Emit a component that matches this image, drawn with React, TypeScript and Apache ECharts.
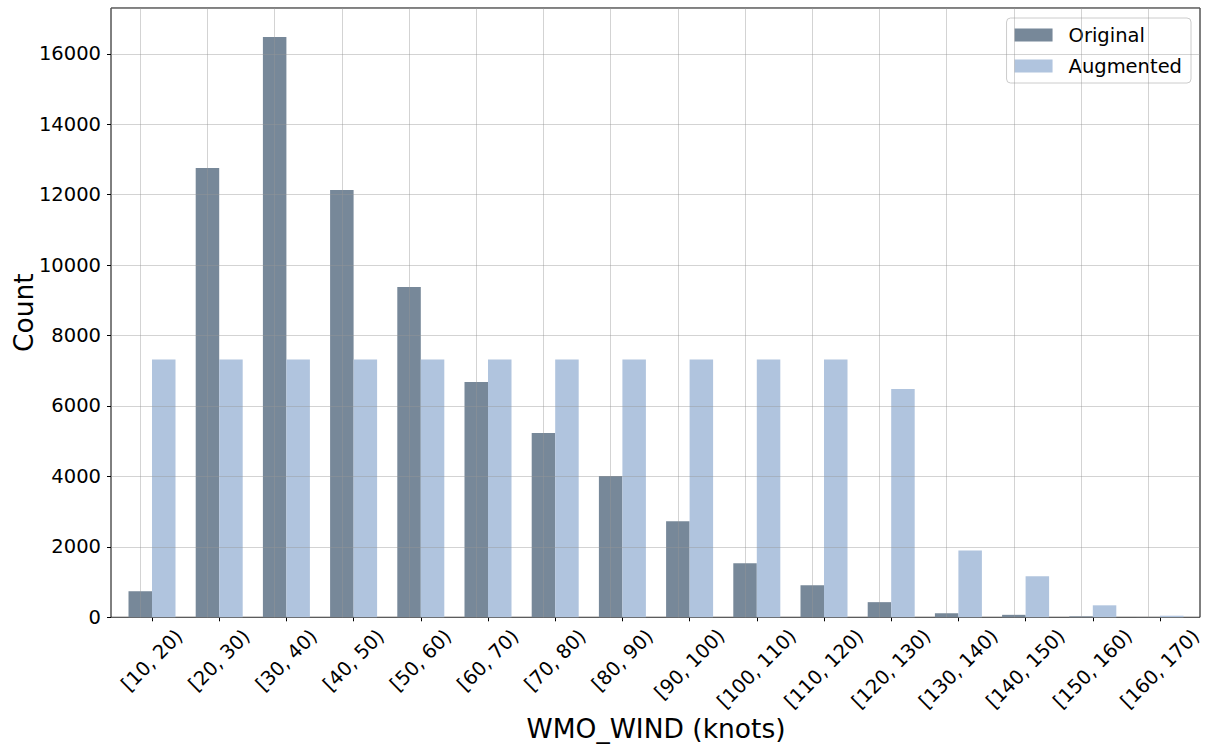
import React, { useEffect, useRef } from "react";
import * as echarts from "echarts";

const categories = [
  "[10, 20)", "[20, 30)", "[30, 40)", "[40, 50)", "[50, 60)", "[60, 70)", "[70, 80)", "[80, 90)",
  "[90, 100)", "[100, 110)", "[110, 120)", "[120, 130)", "[130, 140)", "[140, 150)", "[150, 160)", "[160, 170)",
];
const original = [740, 12760, 16480, 12130, 9380, 6680, 5230, 4010, 2730, 1535, 910, 430, 115, 70, 25, 3];
const augmented = [7320, 7320, 7320, 7320, 7320, 7320, 7320, 7320, 7320, 7320, 7320, 6480, 1900, 1165, 340, 45];
const yMax = 17300;
const yInterval = 2000;

const FONT = "DejaVu Sans";
const GRID_COLOR = "rgba(150,150,150,0.42)";
const TICK_FS = 19.5;
const TITLE_FS = 26.5;

export default function App() {
  const ref = useRef<HTMLDivElement>(null);
  useEffect(() => {
    if (!ref.current) return;
    const chart = echarts.init(ref.current, null, { renderer: "svg" });
    const labelAxis = (filter: (s: string) => boolean, margin: number) => ({
      type: "category",
      gridIndex: 0,
      position: "bottom",
      data: categories,
      axisLine: { show: false },
      axisTick: { show: false },
      splitLine: { show: false },
      axisLabel: {
        interval: 0,
        rotate: 45,
        align: "center",
        verticalAlign: "middle",
        margin,
        fontSize: TICK_FS,
        color: "#000",
        fontFamily: FONT,
        formatter: (v: string) => (filter(v) ? v : ""),
      },
    });
    chart.setOption({
      animation: false,
      textStyle: { fontFamily: FONT },
      grid: [
        { left: 118.4, right: 12.4, top: 8, bottom: 131.7, outerBoundsMode: "none", containLabel: false },
        {
          left: 111, right: 6, top: 8, bottom: 131.7,
          outerBoundsMode: "none", containLabel: false,
          show: true, borderColor: "#000", borderWidth: 1, backgroundColor: "transparent",
        },
      ],
      legend: {
        data: ["Original", "Augmented"],
        orient: "vertical",
        right: 15,
        top: 18,
        itemWidth: 38,
        itemHeight: 13,
        itemGap: 11,
        icon: "rect",
        padding: [7, 9, 7, 8],
        borderColor: "#ccc",
        borderWidth: 1,
        borderRadius: 4,
        backgroundColor: "rgba(255,255,255,0.8)",
        textStyle: { fontSize: TICK_FS, color: "#000", fontFamily: FONT, padding: [0, 0, 0, 11] },
      },
      xAxis: [
        {
          type: "category",
          gridIndex: 0,
          position: "bottom",
          data: categories,
          axisLine: { show: false },
          axisTick: { show: true, alignWithLabel: true, interval: 0, length: 4, lineStyle: { color: "#000" } },
          splitLine: { show: false },
          axisLabel: {
            interval: 0,
            rotate: 45,
            align: "center",
            verticalAlign: "middle",
            margin: 43,
            fontSize: TICK_FS,
            color: "#000",
            fontFamily: FONT,
            formatter: (v: string) => (v.length <= 8 ? v : ""),
          },
          name: "WMO_WIND (knots)",
          nameLocation: "middle",
          nameGap: 98,
          nameMoveOverlap: false,
          nameTextStyle: { fontSize: TITLE_FS, color: "#000", fontFamily: FONT },
        },
        labelAxis((v) => v.length === 9, 47),
        labelAxis((v) => v.length >= 10, 51.5),
        { type: "value", gridIndex: 1, show: false, min: 0, max: 1 },
      ],
      yAxis: [
        { type: "value", gridIndex: 0, min: 0, max: yMax, show: false },
        {
          type: "value",
          gridIndex: 1,
          min: 0,
          max: yMax,
          interval: yInterval,
          z: 5,
          axisLine: { show: false },
          axisTick: { show: true, length: 4, lineStyle: { color: "#000" } },
          axisLabel: {
            fontSize: TICK_FS,
            margin: 10,
            color: "#000",
            fontFamily: FONT,
            showMaxLabel: false,
            formatter: (v: number) => String(v),
          },
          splitLine: { show: true, lineStyle: { color: GRID_COLOR, width: 1 } },
          name: "Count",
          nameLocation: "middle",
          nameGap: 74,
          nameMoveOverlap: false,
          nameTextStyle: { fontSize: TITLE_FS, color: "#000", fontFamily: FONT },
        },
      ],
      series: [
        {
          name: "Original",
          type: "bar",
          xAxisIndex: 0,
          yAxisIndex: 0,
          data: original,
          barWidth: 23.5,
          barGap: "0%",
          itemStyle: { color: "#778899" },
          markLine: {
            silent: true,
            symbol: ["none", "none"],
            label: { show: false },
            lineStyle: { color: GRID_COLOR, type: "solid", width: 1 },
            data: categories.map((c) => ({ xAxis: c })),
          },
        },
        {
          name: "Augmented",
          type: "bar",
          xAxisIndex: 0,
          yAxisIndex: 0,
          data: augmented,
          barWidth: 23.5,
          barGap: "0%",
          itemStyle: { color: "#B0C4DE" },
        },
      ],
    });
    return () => chart.dispose();
  }, []);
  return (
    <div
      ref={ref}
      style={{ position: "fixed", left: 0, top: 0, width: 1206, height: 749, background: "#fff" }}
    />
  );
}
